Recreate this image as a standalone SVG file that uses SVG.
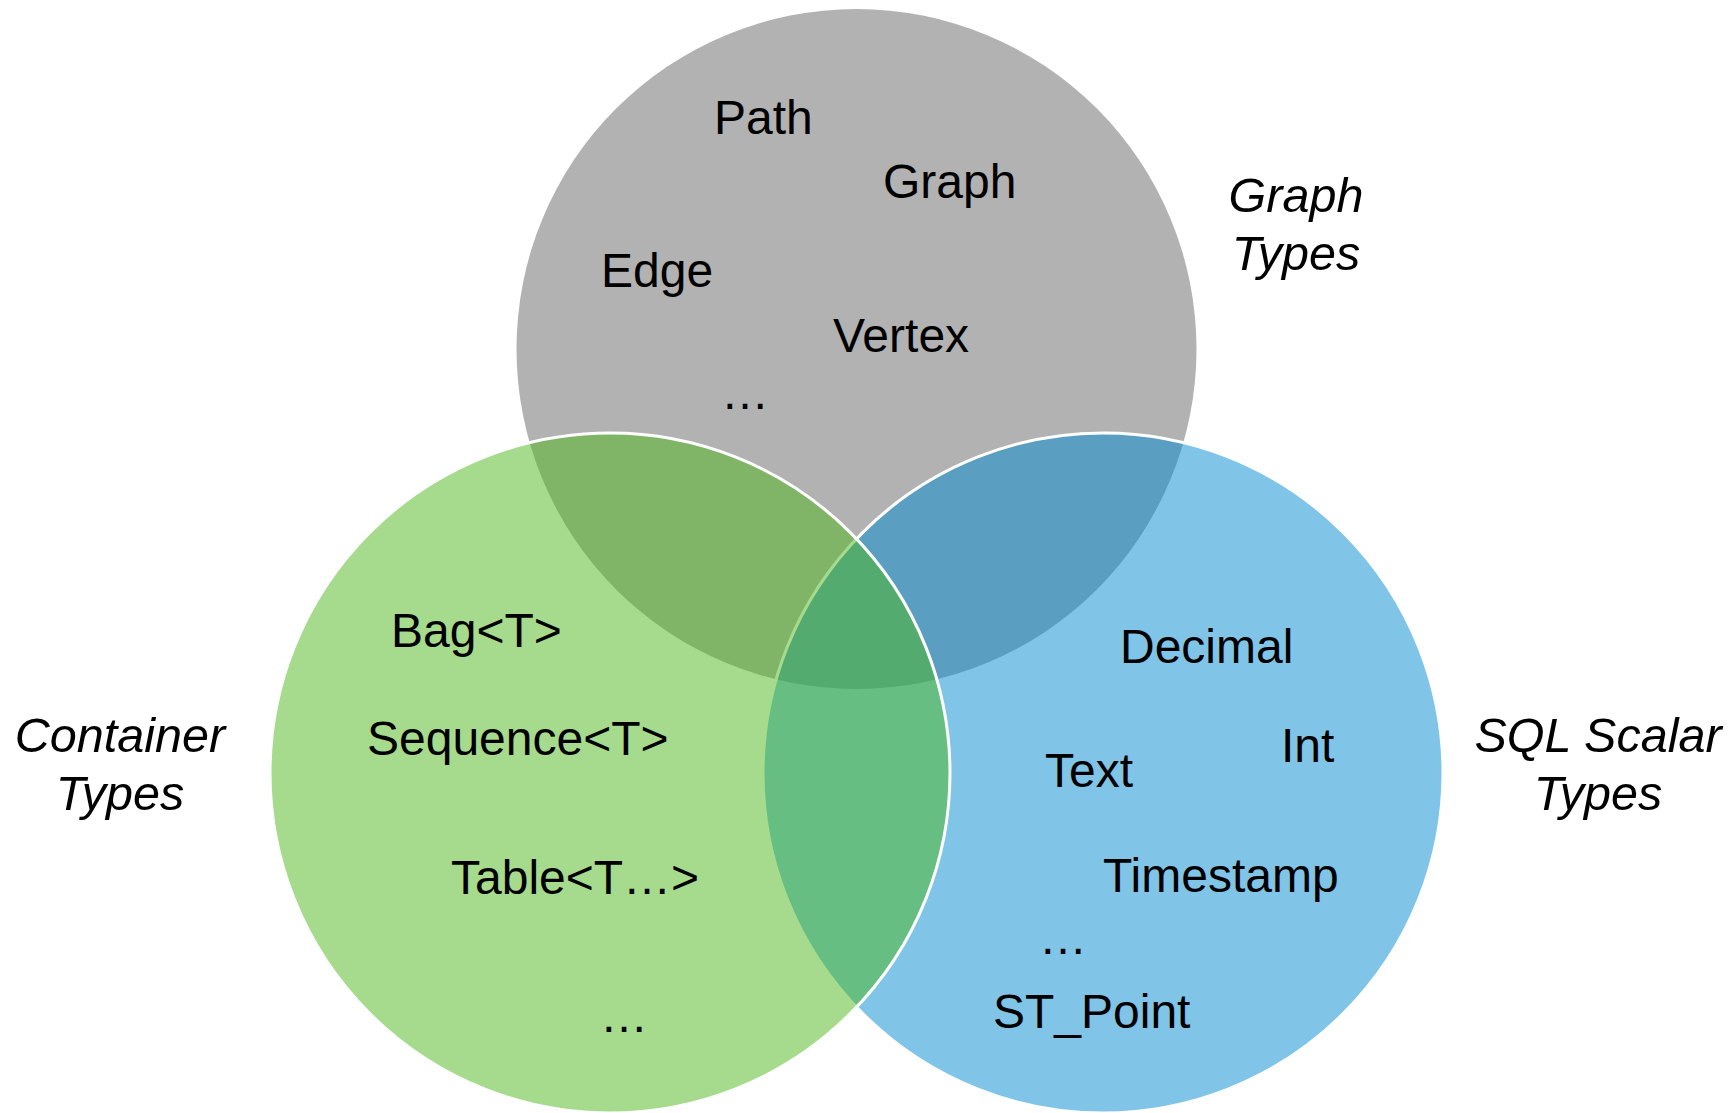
<svg xmlns="http://www.w3.org/2000/svg" width="1735" height="1113" viewBox="0 0 1735 1113">
  <style>
    .lbl { font-family: "Liberation Sans", Arial, sans-serif; font-size: 48px; fill: #000000; }
    .set { font-family: "Liberation Sans", Arial, sans-serif; font-size: 48.5px; font-style: italic; fill: #000000; text-anchor: middle; }
    .gray { fill: #b2b2b2; }
    .blue { fill: #0189cf; fill-opacity: 0.5; stroke: #ffffff; stroke-width: 3; }
    .green { fill: #4db71d; fill-opacity: 0.5; stroke: #ffffff; stroke-width: 3; }
  </style>
  <rect width="1735" height="1113" fill="#ffffff"/>
  <g id="graph-types">
    <circle class="gray" cx="856.5" cy="349" r="340"/>
    <text class="lbl" x="714" y="134">Path</text>
    <text class="lbl" x="883" y="198">Graph</text>
    <text class="lbl" x="601" y="287">Edge</text>
    <text class="lbl" x="833" y="352">Vertex</text>
    <text class="lbl" x="721" y="409">…</text>
    <text class="set" x="1296" y="212">Graph</text>
    <text class="set" x="1296" y="270">Types</text>
  </g>
  <g id="sql-scalar-types">
    <circle class="blue" cx="1103" cy="773" r="340"/>
    <text class="lbl" x="1120" y="663">Decimal</text>
    <text class="lbl" x="1281" y="762">Int</text>
    <text class="lbl" x="1045" y="787">Text</text>
    <text class="lbl" x="1103" y="892">Timestamp</text>
    <text class="lbl" x="1039" y="954">…</text>
    <text class="lbl" x="993" y="1028">ST_Point</text>
    <text class="set" x="1598" y="752">SQL Scalar</text>
    <text class="set" x="1598" y="810">Types</text>
  </g>
  <g id="container-types">
    <circle class="green" cx="610" cy="773" r="340"/>
    <text class="lbl" x="391" y="647">Bag&lt;T&gt;</text>
    <text class="lbl" x="367" y="755">Sequence&lt;T&gt;</text>
    <text class="lbl" x="451" y="894">Table&lt;T…&gt;</text>
    <text class="lbl" x="600" y="1032">…</text>
    <text class="set" x="120" y="752">Container</text>
    <text class="set" x="120" y="810">Types</text>
  </g>
  <g id="connectors"/>
</svg>
